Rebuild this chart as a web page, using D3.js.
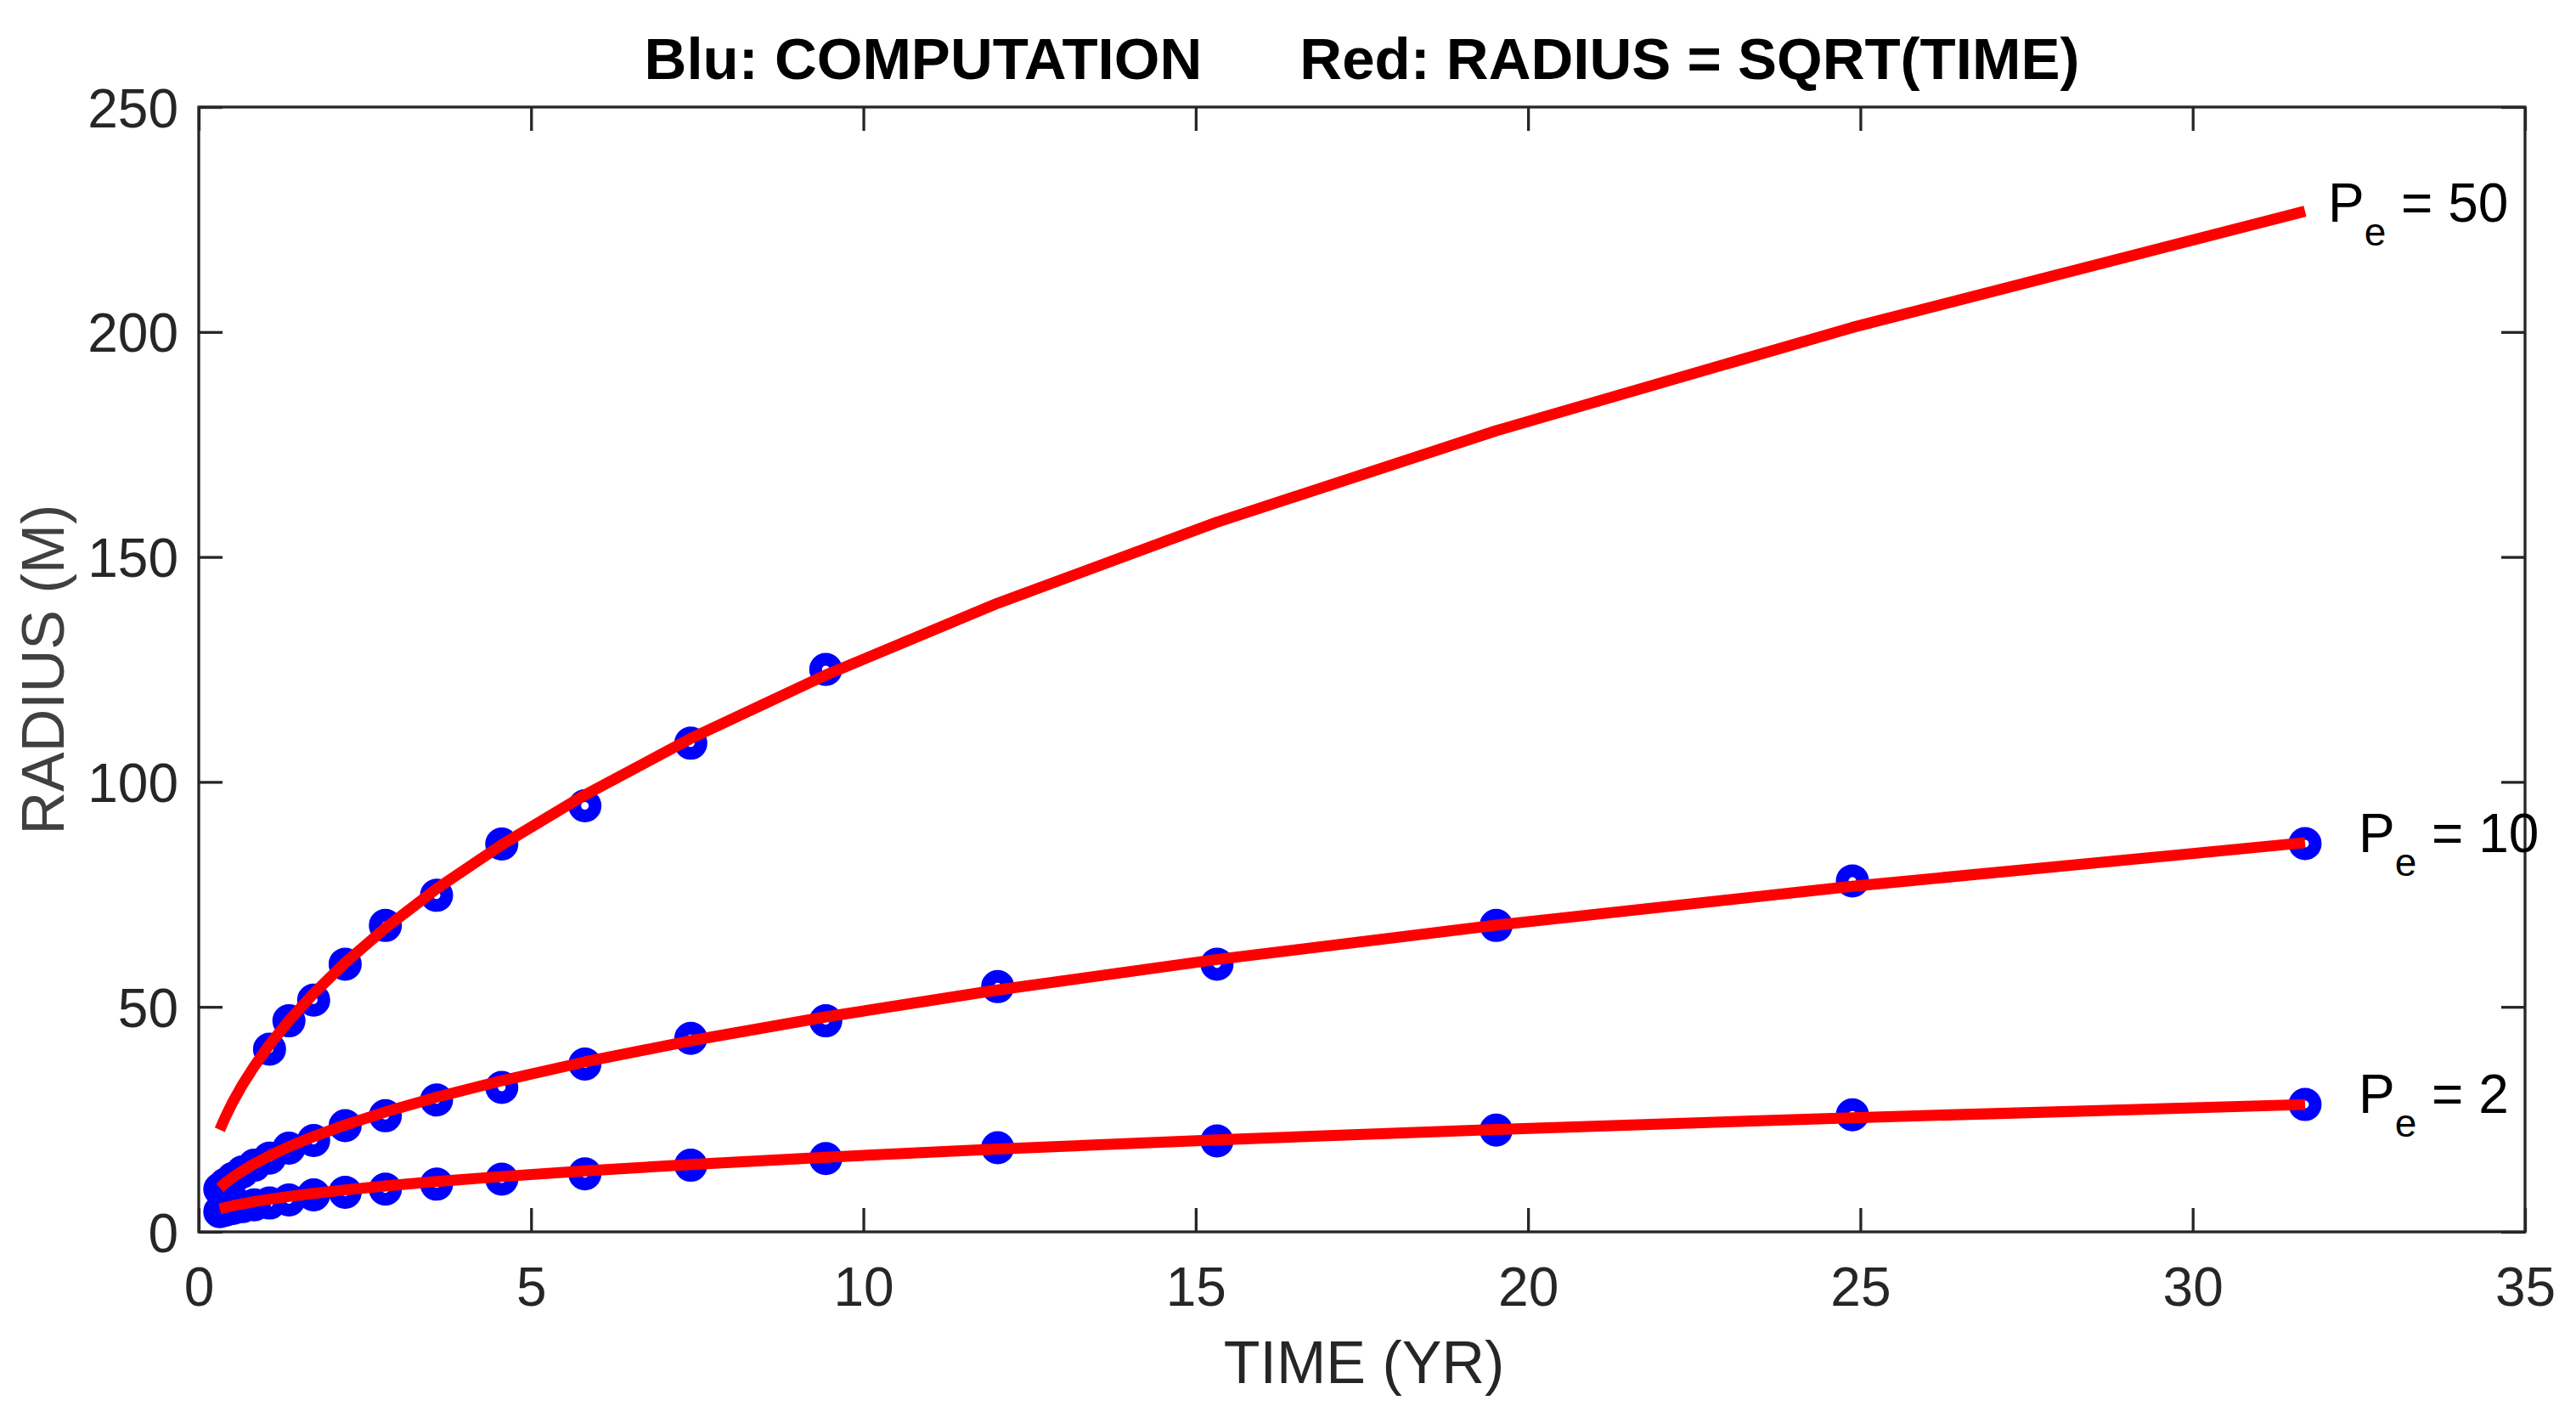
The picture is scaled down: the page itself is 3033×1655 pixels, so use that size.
<!DOCTYPE html>
<html><head><meta charset="utf-8">
<script src="https://cdn.jsdelivr.net/npm/d3@7"></script>
<style>
body{margin:0;background:#fff}
svg{display:block}
text{font-family:"Liberation Sans",Arial,Helvetica,sans-serif}
</style>
</head><body>
<svg id="chart" width="3033" height="1655"></svg>
<script>
// ---- data ----
const timeYr = [0.317,0.404,0.515,0.656,0.836,1.065,1.357,1.729,2.203,2.808,3.578,4.559,5.810,7.403,9.434,12.02,15.32,19.52,24.88,31.69];
// blue: computation
const comp2  = [4.5,4.8,5.2,5.6,6.0,6.4,7.1,8.2,8.8,9.5,10.6,11.7,12.9,14.8,16.3,18.7,20.2,22.6,26.0,28.3];
const comp10 = [9.5,10.6,11.9,13.3,14.8,16.4,18.6,20.3,23.6,25.8,29.3,32.1,37.3,43.0,46.9,54.5,59.5,68.1,78.0,86.3];
const comp50 = [null,null,null,null,null,40.6,46.9,51.5,59.5,68.1,74.8,86.2,94.7,108.6,125.0,null,null,null,null,null];
// red: radius = sqrt(time)
const fit2  = [5.10,5.43,5.81,6.23,6.71,7.25,7.86,8.54,9.32,10.20,11.19,12.30,13.56,14.98,16.58,18.40,20.45,22.75,25.36,28.30];
const fit10 = [9.80,10.91,12.15,13.54,15.12,16.90,18.92,21.19,23.75,26.65,29.92,33.60,37.77,42.48,47.77,53.77,60.54,68.17,76.80,86.50];
const fit50 = [22.69,25.63,28.94,32.64,36.83,41.59,46.95,52.99,59.81,67.54,76.25,86.04,97.12,109.66,123.76,139.72,157.73,178.05,201.02,226.85];
const peValues = ["50","10","2"];
const xTicks = [0,5,10,15,20,25,30,35];
const yTicks = [0,50,100,150,200,250];
const titleLeft = "Blu: COMPUTATION";
const titleRight = "Red: RADIUS = SQRT(TIME)";
const xLabel = "TIME (YR)";
const yLabel = "RADIUS (M)";

// ---- layout ----
const L = 234, R = 2973, T = 126, B = 1450;
const axisColor = "#262626";
const svg = d3.select("#chart");
const x = d3.scaleLinear().domain([0,35]).range([L,R]);
const y = d3.scaleLinear().domain([0,250]).range([B,T]);

// computation markers (drawn first, red lines over them)
const compSeries = [comp2, comp10, comp50];
const gM = svg.append("g");
compSeries.forEach(s => {
  gM.selectAll(null)
    .data(timeYr.map((t,i)=>({t, v:s[i]})).filter(d=>d.v!=null))
    .enter().append("circle")
    .attr("cx", d=>x(d.t)).attr("cy", d=>y(d.v))
    .attr("r", 12)
    .attr("fill","none").attr("stroke","#0000ff").attr("stroke-width",15);
});

// red curves
const line = d3.line().x(d=>x(d.t)).y(d=>y(d.v));
const fitSeries = [fit50, fit10, fit2];
fitSeries.forEach(s => {
  svg.append("path")
    .datum(timeYr.map((t,i)=>({t, v:s[i]})))
    .attr("d", line)
    .attr("fill","none").attr("stroke","#ff0000").attr("stroke-width",13)
    .attr("stroke-linejoin","round").attr("stroke-linecap","butt");
});

// axes box
svg.append("rect").attr("x",L).attr("y",T).attr("width",R-L).attr("height",B-T)
  .attr("fill","none").attr("stroke",axisColor).attr("stroke-width",3.3);

const tickLen = 28, fs = 64;
function styleAxis(g){
  g.select(".domain").remove();
  g.selectAll(".tick line").attr("stroke",axisColor).attr("stroke-width",3.3);
  g.selectAll(".tick text").attr("fill",axisColor).attr("font-size",fs)
    .attr("font-family",'"Liberation Sans",Arial,Helvetica,sans-serif');
}
const gB = svg.append("g").attr("transform",`translate(0,${B})`)
  .call(d3.axisBottom(x).tickValues(xTicks).tickSizeInner(-tickLen).tickSizeOuter(0).tickPadding(0).tickFormat(d3.format("d")));
styleAxis(gB);
gB.selectAll(".tick text").attr("y",87).attr("dy",null);
const gT = svg.append("g").attr("transform",`translate(0,${T})`)
  .call(d3.axisTop(x).tickValues(xTicks).tickSizeInner(-tickLen).tickSizeOuter(0).tickFormat(""));
styleAxis(gT);
const gL = svg.append("g").attr("transform",`translate(${L},0)`)
  .call(d3.axisLeft(y).tickValues(yTicks).tickSizeInner(-tickLen).tickSizeOuter(0).tickPadding(0).tickFormat(d3.format("d")));
styleAxis(gL);
gL.selectAll(".tick text").attr("x",-24).attr("dy",null).attr("y",23);
const gR = svg.append("g").attr("transform",`translate(${R},0)`)
  .call(d3.axisRight(y).tickValues(yTicks).tickSizeInner(-tickLen).tickSizeOuter(0).tickFormat(""));
styleAxis(gR);

// title
svg.append("text").attr("x",(L+R)/2).attr("y",93).attr("text-anchor","middle")
  .attr("font-size",69).attr("font-weight","bold").attr("fill","#000")
  .style("white-space","pre")
  .text(titleLeft + "      " + titleRight);

// axis labels
svg.append("text").attr("x",1606).attr("y",1628).attr("text-anchor","middle")
  .attr("font-size",70).attr("fill",axisColor).text(xLabel);
svg.append("text").attr("transform",`translate(75,${(T+B)/2}) rotate(-90)`)
  .attr("text-anchor","middle").attr("font-size",70).attr("fill","#404040").text(yLabel);

// Pe labels near the ends of the red curves
const last = timeYr.length-1;
const labelOffsets = [[27,12],[63,11],[63,10]];
fitSeries.forEach((s,k) => {
  const t = svg.append("text")
    .attr("x", x(timeYr[last]) + labelOffsets[k][0])
    .attr("y", y(s[last]) + labelOffsets[k][1])
    .attr("fill","#000").attr("font-size",64)
    .style("white-space","pre");
  t.append("tspan").text("P");
  t.append("tspan").attr("font-size",46).attr("dy",28).text("e");
  t.append("tspan").attr("dy",-28).text(" = " + peValues[k]);
});
</script>
</body></html>
